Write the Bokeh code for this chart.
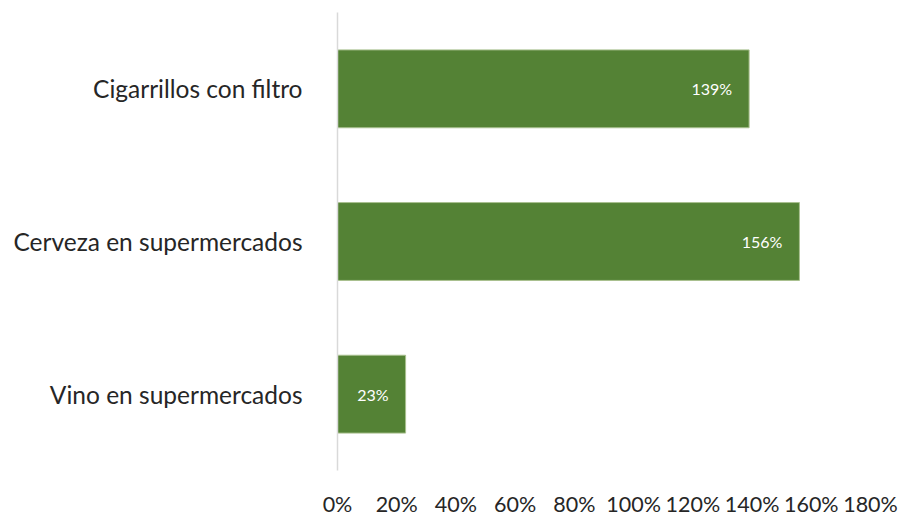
from bokeh.plotting import figure
from bokeh.models import ColumnDataSource, FixedTicker, NumeralTickFormatter, LabelSet
from bokeh.core.properties import value
from bokeh.embed import file_html
from bokeh.resources import INLINE

categories = ["Cigarrillos con filtro", "Cerveza en supermercados", "Vino en supermercados"]
values = [1.39, 1.56, 0.23]
labels = ["139%", "156%", "23%"]
ticks = [0, 0.2, 0.4, 0.6, 0.8, 1.0, 1.2, 1.4, 1.6, 1.8]

FONT = "Lato"

src = ColumnDataSource(dict(cat=categories, val=values, lab=labels))

p = figure(width=899, height=519, y_range=list(reversed(categories)),
           x_range=(0, 1.8), output_backend="svg", toolbar_location=None,
           min_border_left=337, min_border_right=29, min_border_top=12,
           min_border_bottom=44)
p.outline_line_color = None
p.grid.visible = False

p.hbar(y="cat", right="val", left=0, height=0.51, source=src,
       fill_color="#548235", line_color="#a9c08f", line_width=1)

lbl = LabelSet(x="val", y="cat", text="lab", source=src, x_offset=-17,
               text_align="right", text_baseline="middle", text_color="white",
               text_font=value(FONT), text_font_size="16px")
p.add_layout(lbl)

p.xaxis.ticker = FixedTicker(ticks=ticks)
p.xaxis.formatter = NumeralTickFormatter(format="0%")
p.xaxis.axis_line_color = None
p.xaxis.major_tick_line_color = None
p.xaxis.minor_tick_line_color = None
p.xaxis.major_tick_out = 0
p.xaxis.major_tick_in = 0
p.xaxis.minor_tick_out = 0
p.xaxis.major_label_standoff = 20
p.xaxis.major_label_text_line_height = 0.8
p.xaxis.major_label_text_font = FONT
p.xaxis.major_label_text_font_size = "21.5px"
p.xaxis.major_label_text_color = "#262626"

p.yaxis.axis_line_color = "#d9d9d9"
p.yaxis.axis_line_width = 1.5
p.yaxis.major_tick_line_color = None
p.yaxis.minor_tick_line_color = None
p.yaxis.major_tick_out = 0
p.yaxis.major_tick_in = 0
p.yaxis.minor_tick_out = 0
p.yaxis.major_label_standoff = 35
p.yaxis.major_label_text_font = FONT
p.yaxis.major_label_text_font_size = "24.5px"
p.yaxis.major_label_text_color = "#262626"

open("out.html", "w").write(file_html(p, INLINE))
